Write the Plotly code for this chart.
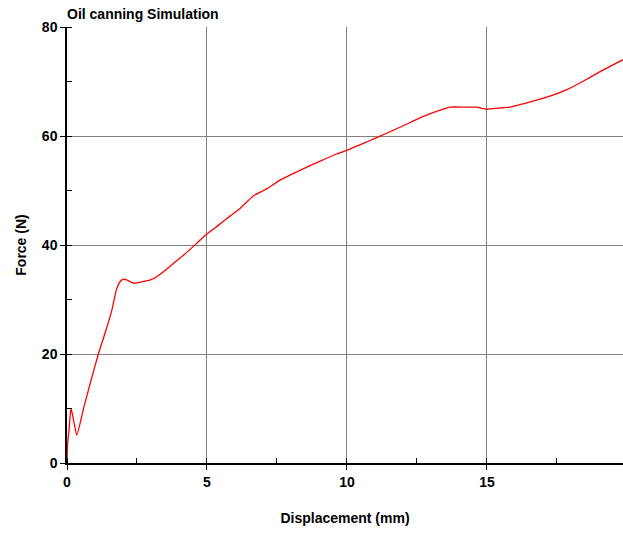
import plotly.graph_objects as go

displacement = [0, 0.02, 0.07, 0.14, 0.2, 0.35, 0.6, 0.85, 1.12, 1.4, 1.6, 1.77, 1.9,
                2.0, 2.13, 2.37, 2.61, 2.85, 3.08, 3.45, 3.80, 4.2, 4.63, 4.99, 5.4, 5.82,
                6.18, 6.65, 7.13, 7.61, 8.32, 9.04, 9.63, 10.01, 10.70, 11.42, 11.89,
                12.73, 13.3, 13.68, 14.2, 14.63, 14.99, 15.4, 15.82, 16.65, 17.25,
                17.85, 18.45, 19.04, 19.86]
force = [0, 3.5, 5.9, 10.0, 8.8, 5.1, 10.2, 15.0, 20.0, 24.5, 28.0, 31.9, 33.3,
         33.7, 33.6, 33.0, 33.2, 33.4, 33.8, 35.1, 36.6, 38.3, 40.3, 42.0, 43.6, 45.3,
         46.7, 49.0, 50.3, 51.9, 53.7, 55.4, 56.7, 57.4, 58.9, 60.5, 61.6,
         63.6, 64.7, 65.3, 65.3, 65.3, 64.9, 65.1, 65.3, 66.4, 67.3,
         68.5, 70.1, 71.8, 74.0]

title_text = "Oil canning Simulation"
x_title = "Displacement (mm)"
y_title = "Force (N)"

font_family = "Liberation Sans, Arial, sans-serif"

fig = go.Figure()
fig.add_trace(go.Scatter(x=displacement, y=force, mode="lines", line_shape="spline",
                         line=dict(color="#ff0000", width=1.3, smoothing=0.4),
                         showlegend=False))

fig.update_layout(
    width=623, height=535,
    margin=dict(l=67, r=0, t=27, b=72),
    paper_bgcolor="white", plot_bgcolor="white",
    font=dict(family=font_family, size=14, color="black"),
    title=dict(text="<b>" + title_text + "</b>", x=67/623, xanchor="left",
               y=1 - 14/535, yanchor="middle", font=dict(size=14)),
)
fig.update_xaxes(
    range=[0, 19.86], dtick=5, tick0=0,
    showgrid=True, gridcolor="#808080", gridwidth=1,
    showline=True, linecolor="black", linewidth=1.5,
    ticks="outside", ticklen=5, tickcolor="black",
    tickfont=dict(size=14, family=font_family),
    tickprefix="<b>", ticksuffix="</b>",
    minor=dict(ticks="inside", ticklen=5, dtick=2.5, tick0=0, tickcolor="black", showgrid=False),
    title=dict(text="<b>" + x_title + "</b>", font=dict(size=14), standoff=25),
    zeroline=False,
)
fig.update_yaxes(
    range=[0, 80], dtick=20, tick0=0,
    showgrid=True, gridcolor="#808080", gridwidth=1,
    showline=True, linecolor="black", linewidth=1.5,
    ticks="outside", ticklen=5, tickcolor="black",
    tickfont=dict(size=14, family=font_family),
    tickprefix="<b>", ticksuffix="</b>",
    minor=dict(ticks="inside", ticklen=5, dtick=10, tick0=0, tickcolor="black", showgrid=False),
    title=dict(text="<b>" + y_title + "</b>", font=dict(size=14), standoff=12),
    zeroline=False,
)

fig.write_html("out.html", config={"displayModeBar": False},
               post_script="document.body.style.margin='0';document.body.style.overflow='hidden';")
